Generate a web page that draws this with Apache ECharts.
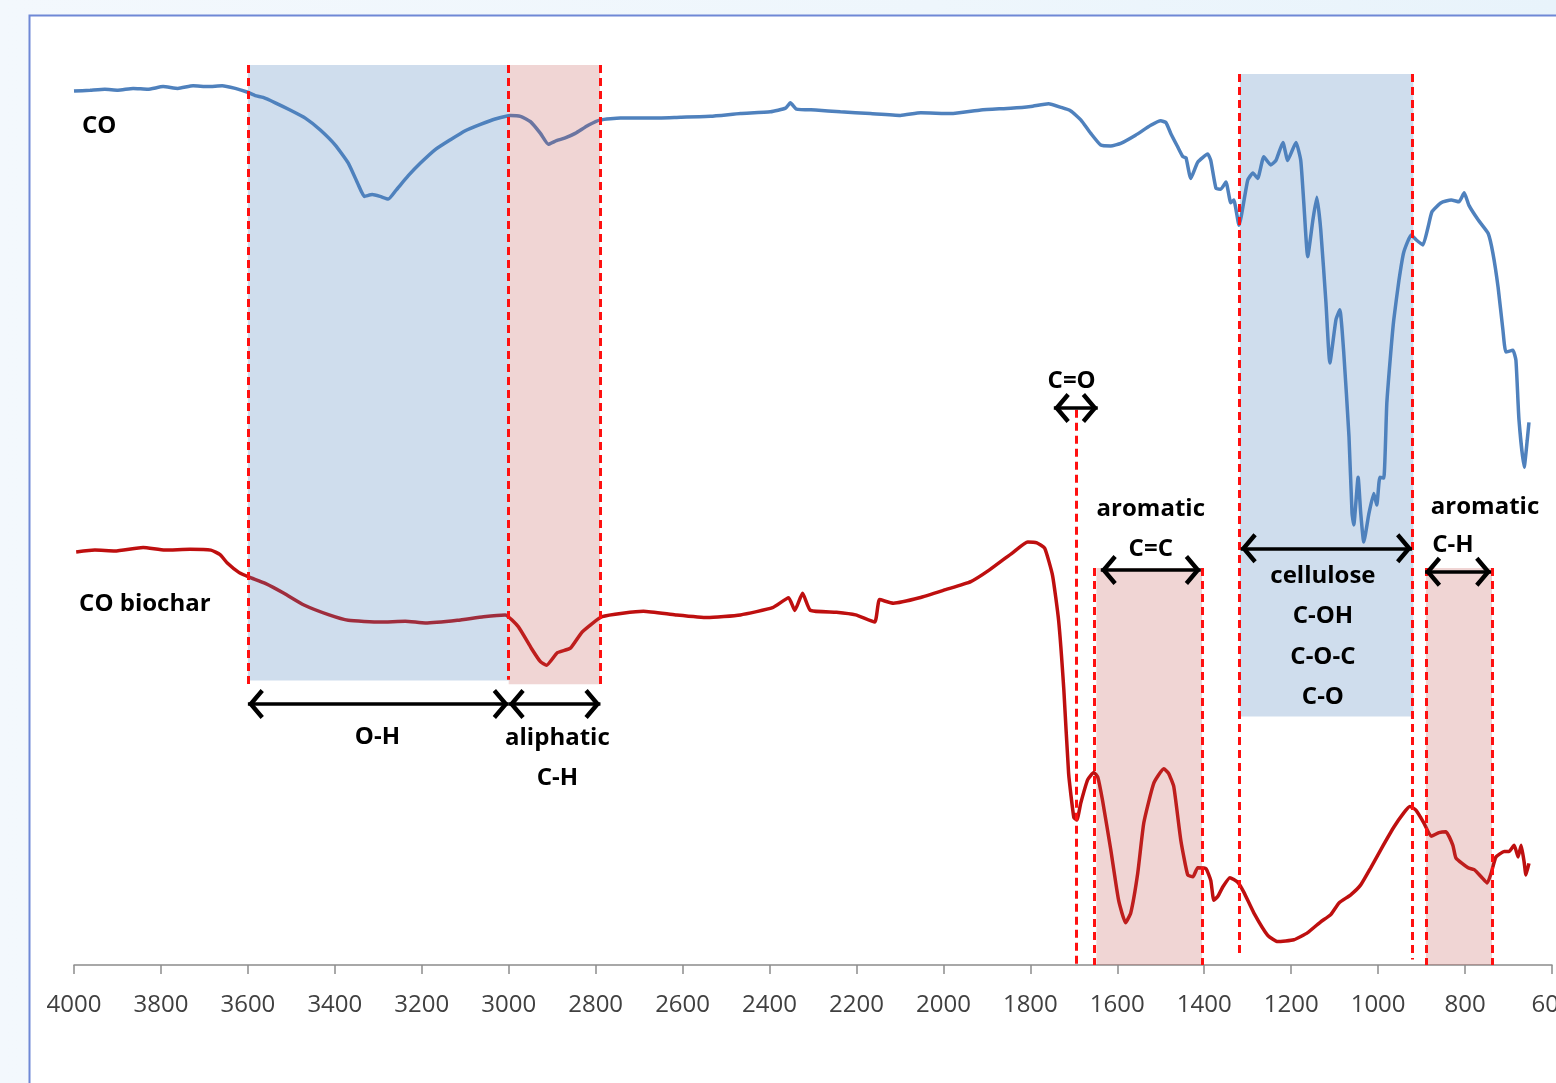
<!DOCTYPE html>
<html>
<head>
<meta charset="utf-8">
<script src="https://cdn.jsdelivr.net/npm/echarts@6/dist/echarts.min.js"></script>
<style>
  html, body { margin: 0; padding: 0; }
  #chart { width: 1556px; height: 1083px; background: linear-gradient(90deg, #f3f8fd 0%, #eef6fc 60%, #e8f3fb 100%); }
</style>
</head>
<body>
<div id="chart"></div>
<script>
// ---- Spectrum data (wavenumber in cm-1, transmittance in arbitrary units) ----
const coWn = [4000,3963,3929,3899,3864,3830,3795,3761,3726,3692,3659,3629,3602,3583,3565,3537,3503,3468,3434,3399,
  3369,3346,3332,3314,3296,3277,3259,3231,3203,3169,3134,3100,3065,3031,2996,2973,2950,2927,2909,2890,
  2870,2847,2817,2789,2743,2674,2605,2536,2467,2398,2363,2352,2338,2294,2237,2168,2099,2052,1983,1914,
  1845,1799,1758,1730,1707,1684,1661,1638,1615,1592,1558,1523,1500,1488,1477,1461,1449,1442,1431,1415,
  1392,1385,1373,1362,1350,1339,1332,1320,1300,1288,1277,1263,1247,1235,1219,1208,1189,1178,1171,1162,
  1150,1141,1132,1120,1111,1097,1088,1079,1067,1060,1056,1046,1040,1033,1021,1010,1003,996,987,980,
  971,964,952,941,924,913,897,885,876,855,832,814,802,791,770,747,736,724,713,706,
  690,683,676,664,657,653];
const coT = [97.1,97.2,97.3,97.2,97.4,97.3,97.6,97.4,97.7,97.6,97.7,97.4,97.0,96.6,96.4,95.8,95.0,94.1,92.8,91.1,
  89.1,86.7,85.4,85.6,85.4,85.1,86.1,87.7,89.1,90.6,91.7,92.7,93.4,94.0,94.4,94.3,93.7,92.4,91.2,91.6,
  91.9,92.4,93.3,93.9,94.1,94.1,94.2,94.3,94.6,94.8,95.2,95.8,95.1,95.0,94.8,94.6,94.4,94.7,94.6,95.0,
  95.2,95.4,95.7,95.3,94.9,93.9,92.4,91.1,91.0,91.3,92.2,93.3,93.8,93.6,92.4,90.9,89.8,89.7,87.4,89.2,
  90.1,89.4,86.3,86.2,87.0,84.7,85.0,82.2,87.2,88.0,87.4,89.8,88.9,89.4,91.4,89.4,91.4,89.4,84.7,78.7,
  82.8,85.3,81.7,73.6,66.9,71.7,72.8,68.0,58.7,50.2,48.9,54.2,50.2,47.0,50.2,52.4,51.1,54.2,54.1,62.4,
  68.0,71.7,76.1,79.2,81.1,80.6,80.0,82.0,83.7,84.7,85.0,84.8,85.8,84.4,82.8,81.3,79.1,75.3,70.6,68.1,
  68.3,67.2,60.6,55.3,58.3,60.3];

const charWn = [3995,3952,3906,3841,3791,3733,3685,3664,3648,3620,3597,3560,3517,3471,3413,3369,3296,3238,3192,3118,
  3058,3008,2978,2948,2927,2913,2888,2858,2831,2785,2690,2616,2543,2467,2393,2356,2342,2324,2306,2246,
  2202,2158,2147,2115,2055,1995,1937,1894,1841,1806,1785,1767,1749,1735,1723,1712,1700,1693,1684,1668,
  1654,1645,1634,1615,1597,1581,1569,1553,1539,1516,1493,1482,1470,1454,1438,1426,1415,1396,1385,1378,
  1369,1357,1341,1323,1309,1286,1254,1231,1194,1162,1132,1109,1090,1063,1040,1017,994,964,941,927,
  913,895,878,860,844,828,821,793,779,763,749,740,729,710,699,687,678,671,664,660,653];
const charT = [45.9,46.1,46.0,46.4,46.1,46.2,46.1,45.6,44.7,43.6,43.1,42.4,41.3,40.0,38.9,38.3,38.1,38.2,38.0,38.3,
  38.7,38.9,37.6,35.2,33.7,33.3,34.7,35.2,37.0,38.7,39.3,38.9,38.6,38.9,39.7,40.8,39.4,41.3,39.4,39.2,
  38.9,38.1,40.6,40.2,40.8,41.7,42.6,43.9,45.8,47.0,46.9,46.3,43.3,38.3,30.6,21.3,16.4,16.1,18.0,20.6,
  21.4,20.9,18.3,12.8,7.2,4.7,5.8,10.2,15.8,20.2,21.8,21.3,19.8,13.9,10.0,9.8,10.8,10.7,9.4,7.2,
  7.6,8.7,9.7,9.2,8.1,5.8,3.3,2.6,2.8,3.6,4.8,5.6,6.9,7.8,8.9,10.8,12.8,15.3,16.9,17.6,
  17.2,15.8,14.3,14.7,14.8,13.3,11.9,10.8,10.6,9.8,9.1,10.2,12.0,12.6,12.6,13.3,12.0,13.3,11.4,10.0,11.3];

// ---- Annotation bands: [fromWn, toWn, topT, bottomT] ----
const blueBands = [[3600, 3000, 100, 31.6], [1318, 919, 99, 27.6]];
const pinkBands = [[3000, 2790, 100, 31.2], [1648, 1405, 44.1, 0], [890, 738, 44.1, 0]];
// dashed guide lines: [wn, topT, bottomT]
const guides = [[3600, 100, 31.2], [3000, 100, 31.7], [2790, 100, 31.0], [1694, 61.7, -0.3], [1654, 44.1, 0],
  [1405, 44.1, 0], [1320, 99, 0.8], [921, 99, 0.6], [890, 44.1, 0], [738, 44.1, 0]];
// double arrows: [fromWn, toWn, T]
const arrows = [[3600, 3000, 29.0], [3000, 2789, 29.0], [1746, 1645, 61.9], [1638, 1408, 43.9],
  [1316, 922, 46.3], [892, 740, 43.7]];
// labels: [wn, T, text]
const labels = [[3942, 93.2, 'CO'], [3837, 40.1, 'CO biochar'], [3302, 25.3, 'O-H'], [2888, 25.2, 'aliphatic'],
  [2888, 20.8, 'C-H'], [1705, 64.9, 'C=O'], [1523, 50.7, 'aromatic'], [1523, 46.2, 'C=C'],
  [1127, 43.2, 'cellulose'], [1127, 38.8, 'C-OH'], [1127, 34.2, 'C-O-C'], [1127, 29.8, 'C-O'],
  [754, 50.9, 'aromatic'], [828, 46.6, 'C-H']];

const chevron = 'path://M0,0 L12,10 L9.6,12.6 L0,4.6 L-9.6,12.6 L-12,10 Z M0,-12.6 L0.01,-12.6 L0,-12.59 Z';

const chart = echarts.init(document.getElementById('chart'), null, { renderer: 'canvas' });
const FONT = '"Open Sans", "DejaVu Sans", sans-serif';

chart.setOption({
  backgroundColor: 'transparent',
  animation: false,
  graphic: [{
    type: 'rect', z: -10, silent: true,
    shape: { x: 29.5, y: 15.5, width: 1600, height: 1200 },
    style: { fill: '#ffffff', stroke: '#6f88d6', lineWidth: 2 }
  }],
  grid: { left: 74, right: 4, top: 65, bottom: 109, containLabel: false, outerBoundsMode: 'none' },
  xAxis: {
    type: 'value', inverse: true, min: 600, max: 4000, interval: 200,
    axisLine: { show: true, onZero: true, lineStyle: { color: '#8c8c8c', width: 1.5 } },
    axisTick: { show: true, length: 9, lineStyle: { color: '#8c8c8c', width: 1.5 } },
    axisLabel: { color: '#404040', fontFamily: FONT, fontSize: 24, margin: 19, formatter: v => String(v), hideOverlap: false },
    splitLine: { show: false }
  },
  yAxis: {
    type: 'value', min: -1, max: 100, show: false, splitLine: { show: false }
  },
  series: [
    {
      name: 'CO', type: 'line', showSymbol: false, smooth: 0.15, z: 2,
      lineStyle: { color: '#4f81bd', width: 3.5 },
      data: coWn.map((w, i) => [w, coT[i]])
    },
    {
      name: 'CO biochar', type: 'line', showSymbol: false, smooth: 0.15, z: 2,
      lineStyle: { color: '#be0f0f', width: 3.5 },
      data: charWn.map((w, i) => [w, charT[i]])
    },
    {
      name: 'bands', type: 'line', data: [], silent: true,
      markArea: {
        silent: true, z: 3,
        data: blueBands.map(b => [
          { coord: [b[0], b[2]], itemStyle: { color: 'rgba(79,129,189,0.27)' } },
          { coord: [b[1], b[3]] }
        ]).concat(pinkBands.map(b => [
          { coord: [b[0], b[2]], itemStyle: { color: 'rgba(192,80,77,0.24)' } },
          { coord: [b[1], b[3]] }
        ]))
      },
      markLine: {
        silent: true, symbol: 'none', z: 5, animation: false,
        label: { show: false },
        lineStyle: { color: '#ff1010', width: 3, type: [8, 5] },
        emphasis: { disabled: true },
        data: guides.map(g => [{ coord: [g[0], g[1]] }, { coord: [g[0], g[2]] }])
      }
    },
    {
      name: 'arrows', type: 'line', data: [], silent: true,
      markLine: {
        silent: true, z: 6, animation: false,
        symbol: [chevron, chevron], symbolSize: [30, 32],
        label: { show: false },
        lineStyle: { color: '#000000', width: 3.5, type: 'solid' },
        itemStyle: { color: '#000000' },
        emphasis: { disabled: true },
        data: arrows.map(a => [{ coord: [a[0], a[2]] }, { coord: [a[1], a[2]] }])
      }
    },
    {
      name: 'labels', type: 'custom', z: 10, silent: true,
      data: labels,
      renderItem: function (params, api) {
        const p = api.coord([api.value(0), api.value(1)]);
        return {
          type: 'text', x: p[0], y: p[1],
          style: {
            text: labels[params.dataIndex][2], fill: '#000000',
            font: '700 24px ' + FONT, align: 'center', verticalAlign: 'middle'
          }
        };
      },
      encode: { x: 0, y: 1 }
    }
  ]
});
</script>
</body>
</html>
